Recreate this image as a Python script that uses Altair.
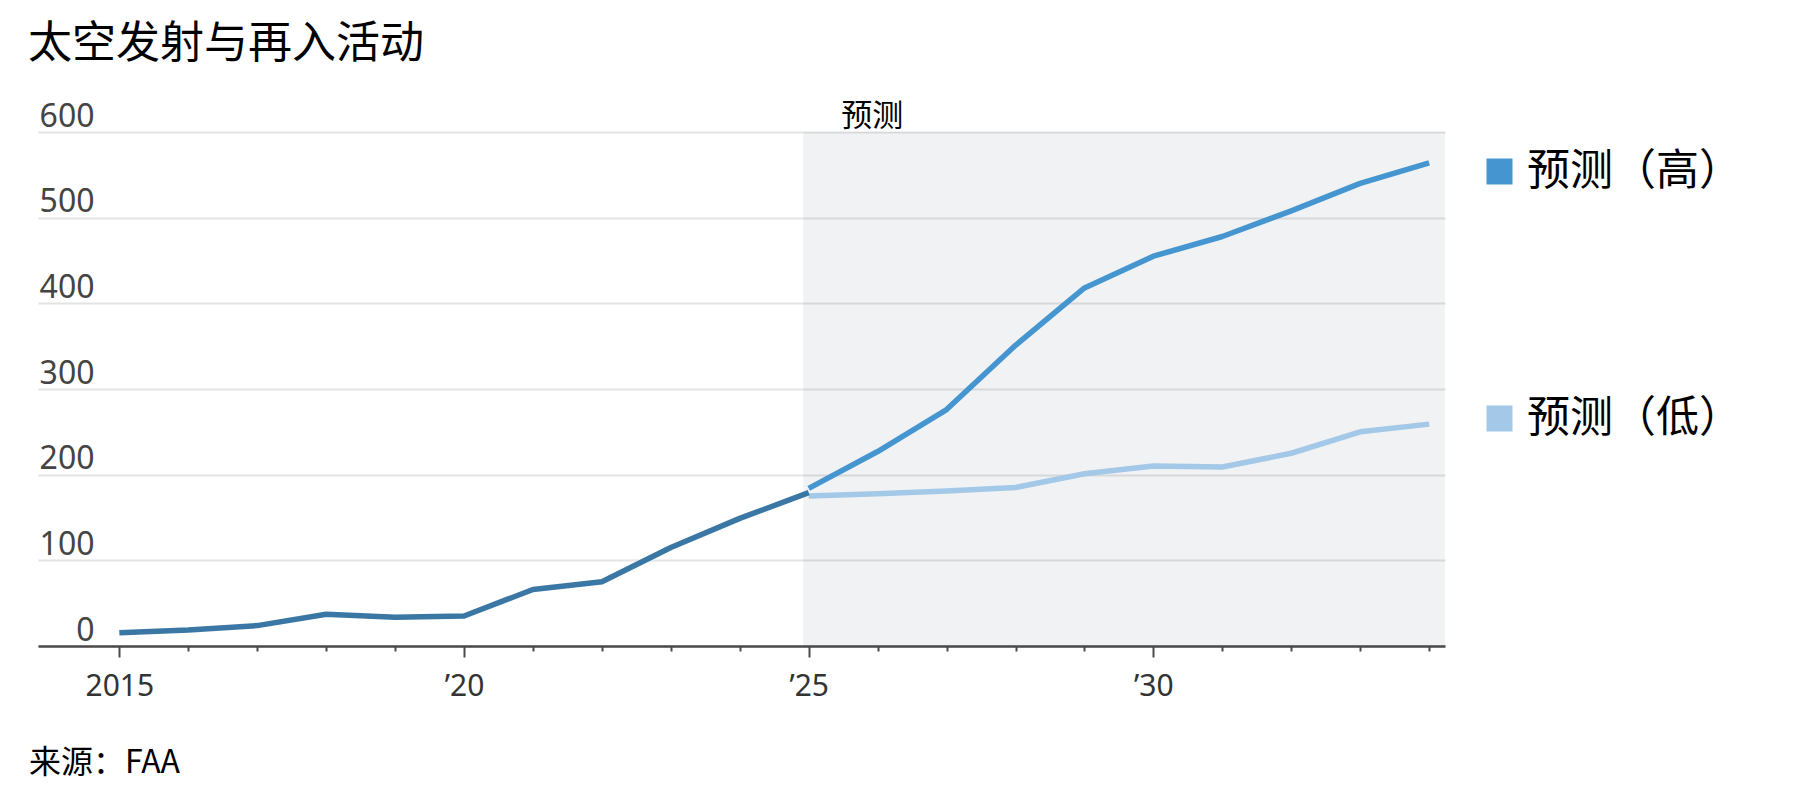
import altair as alt
import pandas as pd

# ---------------- data ----------------
title_text = "太空发射与再入活动"
source_text = "来源：FAA"
forecast_label = "预测"

series_names = ["预测（高）", "预测（低）", "历史"]
series_colors = ["#4596d0", "#a4c8e7", "#3a77a4"]

hist_years = list(range(2015, 2026))
hist_values = [15.6, 18.8, 23.8, 37, 33.6, 35, 66, 75, 115, 149, 179]

fc_years = list(range(2025, 2035))
high_values = [184, 227, 276, 351, 418, 455, 478, 508, 540, 564]
low_values = [175, 177.6, 181, 185, 201, 210, 209, 225, 250, 259]

year_ticks = list(range(2015, 2035))
y_ticks = [0, 100, 200, 300, 400, 500, 600]
x_domain = [2013.82, 2034.23]
y_domain = [0, 600]
forecast_start = 2024.92
forecast_label_x = 2025.92

# ---------------- tables ----------------
hist_df = pd.DataFrame({"year": hist_years, "value": hist_values, "series": series_names[2]})
high_df = pd.DataFrame({"year": fc_years, "value": high_values, "series": series_names[0]})
low_df = pd.DataFrame({"year": fc_years, "value": low_values, "series": series_names[1]})
band_df = pd.DataFrame({"x": [forecast_start], "x2": [x_domain[1]], "y": [y_domain[1]], "y2": [y_domain[0]]})
note_df = pd.DataFrame({"x": [forecast_label_x], "y": [y_domain[1]], "t": [forecast_label]})
source_df = pd.DataFrame({"t": [source_text]})

W, H = 1407, 514
CJK = "Noto Sans CJK SC"

x_scale = alt.Scale(domain=x_domain, nice=False, zero=False)
y_scale = alt.Scale(domain=y_domain, nice=False, zero=False)

label_expr = ("datum.value === 2015 ? '2015' : "
              "(datum.value % 5 === 0 ? '\u2019' + (datum.value % 100) : '')")

x_axis = alt.Axis(
    values=year_ticks, labelExpr=label_expr, title=None, grid=False,
    domain=True, domainColor="#4a4a4a", domainWidth=2.5,
    ticks=True, tickColor="#4a4a4a", tickWidth=2,
    tickSize={"condition": {"test": "datum.value % 5 === 0", "value": 11}, "value": 5},
    labelFont="Noto Sans", labelFontSize=30, labelColor="#333333",
    labelPadding=14, labelBaseline="top", labelOverlap=False, labelFlush=False,
)
y_axis = alt.Axis(
    values=y_ticks, title=None, grid=True, gridColor="#e4e4e4", gridWidth=2,
    domain=False, ticks=False, tickSize=0,
    labelAlign="right", labelBaseline="alphabetic", labelPadding=-56, labelOffset=-6,
    labelFont="Noto Sans", labelFontSize=32, labelColor="#444444",
)

legend = alt.Legend(
    orient="none", legendX=1440, legendY=18, title=None,
    values=series_names[:2], symbolType="square", symbolSize=169, symbolStrokeWidth=13,
    labelFont=CJK, labelFontSize=43, labelColor="#000000", labelOffset=6,
    labelLimit=400, rowPadding=182, padding=0,
)
color = alt.Color("series:N", scale=alt.Scale(domain=series_names, range=series_colors), legend=legend)

band = alt.Chart(band_df).mark_rect(color="rgb(55,69,98)", opacity=0.07).encode(
    x=alt.X("x:Q", scale=x_scale, axis=x_axis),
    x2="x2:Q",
    y=alt.Y("y:Q", scale=y_scale, axis=y_axis),
    y2="y2:Q",
)

def line_layer(df):
    return alt.Chart(df).mark_line(strokeJoin="round", strokeCap="butt").encode(
        x=alt.X("year:Q", scale=x_scale, axis=x_axis),
        y=alt.Y("value:Q", scale=y_scale, axis=y_axis),
        color=color,
        strokeWidth=alt.value(5.5),
    )

note = alt.Chart(note_df).mark_text(
    font=CJK, fontSize=31, baseline="alphabetic", align="center", dy=-6, color="#000000"
).encode(x=alt.X("x:Q", scale=x_scale), y=alt.Y("y:Q", scale=y_scale), text="t:N")

source = alt.Chart(source_df).mark_text(
    font=CJK, fontSize=32, baseline="alphabetic", align="left", color="#000000"
).encode(x=alt.value(-9), y=alt.value(641), text="t:N")

chart = alt.layer(
    band, line_layer(low_df), line_layer(high_df), line_layer(hist_df), note, source
).properties(
    width=W, height=H,
    title=alt.TitleParams(text=title_text, anchor="start", frame="group", dx=-10,
                          font=CJK, fontSize=44, fontWeight="normal", color="#000000", offset=33),
    autosize=alt.AutoSizeParams(type="none"),
    padding={"left": 30, "top": 124, "right": 340, "bottom": 140},
    background="#ffffff",
).configure_view(stroke=None)

chart.save("out.html", embed_options={"renderer": "svg", "actions": False})
